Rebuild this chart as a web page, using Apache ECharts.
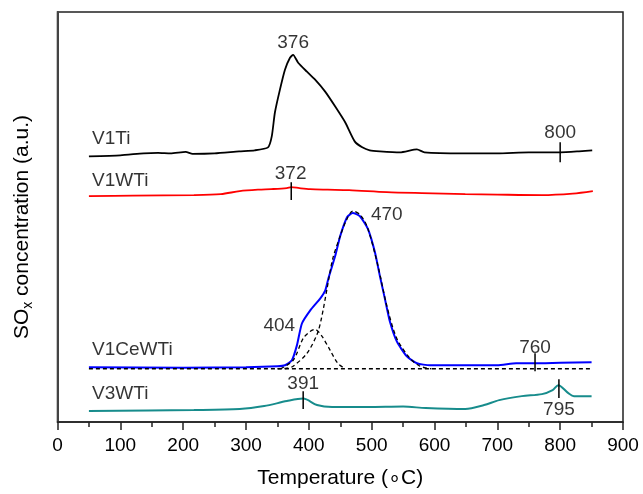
<!DOCTYPE html>
<html>
<head>
<meta charset="utf-8">
<script src="https://cdn.jsdelivr.net/npm/echarts@6/dist/echarts.min.js"></script>
<style>
html,body{margin:0;padding:0;background:#fff;}
#chart{width:643px;height:494px;}
</style>
</head>
<body>
<div id="chart"></div>
<script>
// ---- data (temperature in °C, signal in arbitrary units, offset per curve) ----
const xTicks = [0, 100, 200, 300, 400, 500, 600, 700, 800, 900];

const tV1Ti = [50, 100, 137, 160, 180, 204, 215, 250, 289, 314, 335, 341, 346, 354, 362, 370, 375, 383, 397, 410, 426, 442, 458, 473, 485, 497, 513, 545, 572, 584, 645, 700, 750, 800, 830, 851];
const vV1Ti = [267, 268, 270, 270.5, 270, 271.5, 269.5, 270, 272, 273, 276, 287, 311, 334, 354, 366, 369, 361, 352, 344, 332, 317, 301, 282, 276, 273, 272, 271, 274, 271, 270, 270, 271, 271, 272, 273];

const tV1WTi = [50, 120, 217, 260, 290, 320, 340, 365, 372, 385, 402, 430, 464, 524, 580, 649, 700, 771, 820, 852];
const vV1WTi = [227, 227.5, 228, 229, 232, 233.5, 234, 235, 236, 235, 234, 233.5, 233, 231, 230, 229, 228.5, 228, 229.5, 232];

const tV1CeWTi = [50, 200, 300, 350, 362, 373, 381, 389, 402, 418, 426, 431, 442, 450, 461, 470, 481, 494, 505, 513, 521, 529, 540, 556, 572, 593, 615, 700, 730, 757, 800, 850];
const vV1CeWTi = [55, 54.5, 55, 56, 57, 62, 77, 99, 112, 124, 132, 144, 167, 187, 206, 210, 207, 194, 171, 147, 124, 101, 81, 66, 59, 57, 57, 57, 59, 59, 59.5, 60];

const tFitBase = [50, 850];
const vFitBase = [53.5, 53.5];
const tFitBig = [350, 365, 375, 397, 413, 420, 429, 438, 450, 460, 470, 482, 493, 510, 524, 540, 561, 577, 595];
const vFitBig = [53.5, 54, 56, 69, 88, 104, 134, 164, 187, 203, 212, 208, 196, 157, 117, 84, 64, 56, 53.5];
const tFitSmall = [355, 375, 391, 402, 410, 421, 434, 446, 458];
const vFitSmall = [53.5, 62, 84, 91, 93, 86, 72, 59, 53.5];

const tV3WTi = [50, 217, 290, 329, 365, 391, 413, 437, 494, 550, 586, 649, 679, 703, 739, 771, 788, 797, 813, 822, 850];
const vV3WTi = [11, 12, 13, 16, 21, 23.5, 17, 15, 15, 15.5, 14, 13, 17, 22, 26, 28, 32, 37, 29, 26, 26];

// peak markers: temperature, low, high
const markerT = [800, 372, 760, 391, 798];
const markerLo = [261, 223, 51, 13, 24];
const markerHi = [281, 241, 69, 31, 43];

// peak annotations
const peakText = ['376', '800', '372', '470', '404', '760', '391', '795'];
const peakT = [375, 800, 371, 524, 353, 760, 391, 798];
const peakV = [381, 291, 249, 208, 97, 75, 38, 12];

// curve names
const curveNames = ['V1Ti', 'V1WTi', 'V1CeWTi', 'V3WTi'];
const curveNameT = [55, 55, 55, 55];
const curveNameV = [285, 242, 73, 28];

// ---- build ----
const zip = (a, b) => a.map((x, i) => [x, b[i]]);
const FONT = 'Liberation Sans, Arial, sans-serif';

const series = [
  { name: 'V1Ti', type: 'line', data: zip(tV1Ti, vV1Ti), showSymbol: false, smooth: 0.2, lineStyle: { color: '#000', width: 1.8 }, z: 3 },
  { name: 'V1WTi', type: 'line', data: zip(tV1WTi, vV1WTi), showSymbol: false, smooth: 0.3, lineStyle: { color: '#ff0000', width: 1.8 }, z: 3 },
  { name: 'V1CeWTi', type: 'line', data: zip(tV1CeWTi, vV1CeWTi), showSymbol: false, smooth: 0.2, lineStyle: { color: '#0000ff', width: 2 }, z: 3 },
  { name: 'fitBase', type: 'line', data: zip(tFitBase, vFitBase), showSymbol: false, lineStyle: { color: '#000', width: 1.3, type: [4, 3] }, z: 4 },
  { name: 'fitBig', type: 'line', data: zip(tFitBig, vFitBig), showSymbol: false, smooth: 0.3, lineStyle: { color: '#000', width: 1.3, type: [4, 3] }, z: 4 },
  { name: 'fitSmall', type: 'line', data: zip(tFitSmall, vFitSmall), showSymbol: false, smooth: 0.3, lineStyle: { color: '#000', width: 1.3, type: [4, 3] }, z: 4 },
  { name: 'V3WTi', type: 'line', data: zip(tV3WTi, vV3WTi), showSymbol: false, smooth: 0.3, lineStyle: { color: '#178c8c', width: 2 }, z: 3 }
];

markerT.forEach((t, i) => {
  series.push({
    type: 'line', data: [[t, markerLo[i]], [t, markerHi[i]]], showSymbol: false,
    lineStyle: { color: '#000', width: 1.5 }, z: 5, silent: true
  });
});

const labelStyle = { show: true, color: '#000', fontSize: 19, fontFamily: FONT, textBorderWidth: 0, textShadowBlur: 0 };

series.push({
  type: 'scatter', symbolSize: 0, z: 6,
  data: peakT.map((t, i) => ({ value: [t, peakV[i]], label: { formatter: peakText[i] } })),
  label: Object.assign({ position: 'inside' }, labelStyle)
});

series.push({
  type: 'scatter', symbolSize: 0, z: 6,
  data: curveNameT.map((t, i) => ({ value: [t, curveNameV[i]], label: { formatter: curveNames[i] } })),
  label: Object.assign({ position: 'right', distance: 0 }, labelStyle)
});

const chart = echarts.init(document.getElementById('chart'), null, { renderer: 'canvas' });
chart.setOption({
  animation: false,
  backgroundColor: '#fff',
  grid: { left: 57.5, right: 20, top: 12, bottom: 70, show: true, borderColor: '#222', borderWidth: 1.5, backgroundColor: 'transparent' },
  xAxis: {
    type: 'value', min: 0, max: 900, interval: 100,
    name: 'Temperature (\u2218C)', nameLocation: 'middle', nameGap: 46,
    nameTextStyle: { fontSize: 21, color: '#000', fontFamily: FONT },
    axisLine: { show: true, lineStyle: { color: '#222', width: 1.5 } },
    axisTick: { show: true, inside: false, length: 8, lineStyle: { color: '#222', width: 1.5 } },
    minorTick: { show: true, splitNumber: 2, length: 5, lineStyle: { color: '#222', width: 1.5 } },
    axisLabel: { fontSize: 19, color: '#000', margin: 14, fontFamily: FONT, formatter: v => xTicks.includes(v) ? String(v) : '' },
    splitLine: { show: false }
  },
  yAxis: {
    type: 'value', min: 0, max: 412,
    name: '{a|SO}{b|x}{a| concentration (a.u.)}', nameLocation: 'middle', nameGap: 22,
    nameTextStyle: {
      color: '#000', fontFamily: FONT, padding: [0, 20, 0, 0],
      rich: {
        a: { fontSize: 21, color: '#000', fontFamily: FONT },
        b: { fontSize: 14, color: '#000', fontFamily: FONT, padding: [12, 0, 0, 0] }
      }
    },
    axisLine: { show: true, lineStyle: { color: '#444', width: 2 } },
    axisTick: { show: false }, axisLabel: { show: false }, splitLine: { show: false }
  },
  series: series
});
</script>
</body>
</html>
